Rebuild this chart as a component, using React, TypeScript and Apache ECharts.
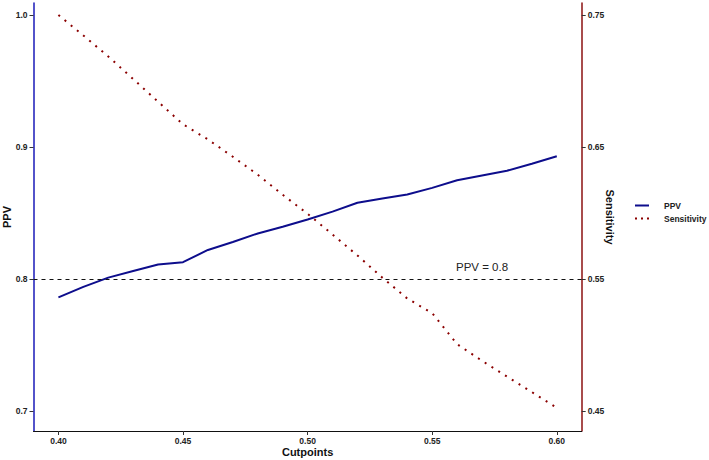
import React, { useEffect, useRef } from "react";
import * as echarts from "echarts";

const cutpoints = [0.40, 0.41, 0.42, 0.43, 0.44, 0.45, 0.46, 0.47, 0.48, 0.49, 0.50, 0.51, 0.52, 0.53, 0.54, 0.55, 0.56, 0.57, 0.58, 0.59, 0.60];
const ppv = [0.786, 0.794, 0.801, 0.806, 0.811, 0.8127, 0.822, 0.828, 0.8345, 0.8395, 0.845, 0.851, 0.8577, 0.861, 0.864, 0.869, 0.8748, 0.8784, 0.882, 0.8873, 0.893];
const sensitivity = [0.75, 0.7345, 0.7186, 0.7015, 0.6843, 0.6672, 0.6557, 0.6426, 0.629, 0.6138, 0.5994, 0.5837, 0.5678, 0.551, 0.5352, 0.5241, 0.5006, 0.488, 0.4761, 0.4643, 0.4524];

const xTicks = [0.40, 0.45, 0.50, 0.55, 0.60];
const ppvTicks = [0.7, 0.8, 0.9, 1.0];
const sensTicks = [0.45, 0.55, 0.65, 0.75];
const refPPV = 0.8;
const refLabel = "PPV = 0.8";
const refLabelAt = [0.57, 0.809];

const FONT = "'Liberation Sans', Arial, sans-serif";

export default function App() {
  const ref = useRef<HTMLDivElement>(null);
  useEffect(() => {
    const chart = echarts.init(ref.current!, null, { renderer: "svg" });
    const tickStyle = { show: true, length: 4, lineStyle: { color: "#333", width: 1 } };
    const labelBase = { color: "#222", fontWeight: "bold", fontSize: 8.5, fontFamily: FONT };
    const nameStyle = { color: "#111", fontWeight: "bold", fontSize: 11, fontFamily: FONT };
    chart.setOption({
      animation: false,
      backgroundColor: "#fff",
      textStyle: { fontFamily: FONT },
      grid: { left: 33.5, right: 127.3, top: 3, bottom: 29, containLabel: false, outerBoundsMode: "none" },
      legend: {
        orient: "vertical",
        left: 634,
        top: 201,
        padding: 0,
        itemWidth: 14,
        itemHeight: 10,
        itemGap: 4,
        itemStyle: { color: "rgba(0,0,0,0)", borderColor: "rgba(0,0,0,0)", borderWidth: 0, opacity: 0 },
        data: [
          { name: "PPV" },
          { name: "Sensitivity", lineStyle: { type: [2, 4] } },
        ],
        textStyle: { ...labelBase, padding: [0, 0, 0, 10] },
      },
      xAxis: {
        type: "value",
        min: 0.39,
        max: 0.61,
        name: "Cutpoints",
        nameLocation: "middle",
        nameGap: 15,
        nameMoveOverlap: false,
        nameTextStyle: nameStyle,
        axisLine: { show: true, lineStyle: { color: "#111", width: 1 } },
        axisTick: { ...tickStyle, customValues: xTicks },
        axisLabel: { ...labelBase, margin: 5, customValues: xTicks, formatter: (v: number) => v.toFixed(2) },
        splitLine: { show: false },
      },
      yAxis: [
        {
          type: "value",
          min: 0.6848,
          max: 1.0091,
          name: "PPV",
          nameLocation: "middle",
          nameGap: 21,
          nameRotate: 90,
          nameMoveOverlap: false,
          nameTextStyle: nameStyle,
          axisLine: { show: true, onZero: false, lineStyle: { color: "#1a1ab8", width: 1.5 } },
          axisTick: { ...tickStyle, customValues: ppvTicks },
          axisLabel: { ...labelBase, margin: 6, customValues: ppvTicks, formatter: (v: number) => v.toFixed(1) },
          splitLine: { show: false },
        },
        {
          type: "value",
          position: "right",
          min: 0.4348,
          max: 0.7591,
          name: "Sensitivity",
          nameLocation: "middle",
          nameGap: 23,
          nameRotate: -90,
          nameMoveOverlap: false,
          nameTextStyle: nameStyle,
          axisLine: { show: true, onZero: false, lineStyle: { color: "#8B1010", width: 1.5 } },
          axisTick: { ...tickStyle, customValues: sensTicks },
          axisLabel: { ...labelBase, margin: 6, customValues: sensTicks, formatter: (v: number) => v.toFixed(2) },
          splitLine: { show: false },
        },
      ],
      series: [
        {
          name: "PPV",
          type: "line",
          yAxisIndex: 0,
          data: cutpoints.map((c, i) => [c, ppv[i]]),
          symbol: "none",
          color: "#0d0d8c",
          lineStyle: { color: "#0d0d8c", width: 2 },
          markLine: {
            silent: true,
            symbol: "none",
            label: { show: false },
            lineStyle: { color: "#111", type: [4, 4], width: 1 },
            data: [{ yAxis: refPPV }],
          },
          markPoint: {
            silent: true,
            symbol: "circle",
            symbolSize: 0,
            data: [{ coord: refLabelAt }],
            label: {
              show: true,
              position: "inside",
              formatter: refLabel,
              color: "#222",
              fontSize: 11.5,
              fontFamily: FONT,
            },
          },
        },
        {
          name: "Sensitivity",
          type: "line",
          yAxisIndex: 1,
          data: cutpoints.map((c, i) => [c, sensitivity[i]]),
          symbol: "none",
          color: "#8B0000",
          lineStyle: { color: "#8B0000", width: 2, type: [2, 6] },
        },
      ],
    });
    return () => chart.dispose();
  }, []);
  return <div ref={ref} style={{ position: "fixed", left: 0, top: 0, width: 709, height: 460 }} />;
}
